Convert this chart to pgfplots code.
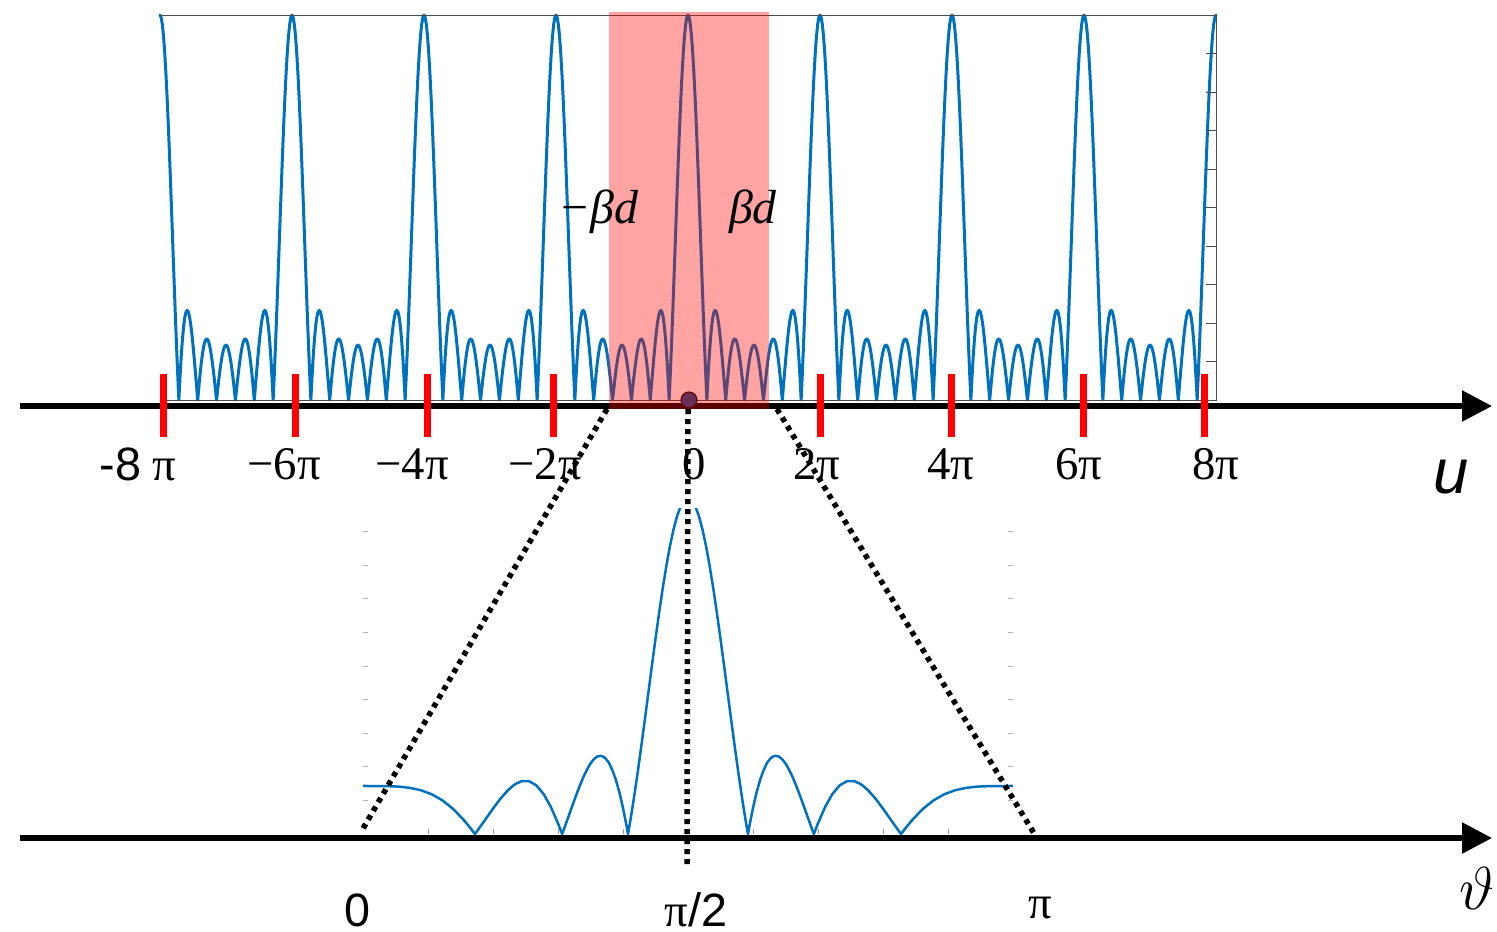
\documentclass[border=0pt]{standalone}
\usepackage{pgfplots}
\pgfplotsset{compat=1.18}
\usepackage{pgfplotstable}
\usepackage{fontspec}
\setmainfont{Liberation Serif}
\newfontfamily\arial{Liberation Sans}
\usetikzlibrary{arrows.meta}

\definecolor{afblue}{RGB}{0,114,189}
\definecolor{dotfill}{RGB}{104,48,88}

% |AF| of a 7-element array over half a period, u/pi from 0 to 1
\pgfplotstableread{
v f
0.0000 1.0000
0.0179 0.9937
0.0357 0.9750
0.0536 0.9443
0.0714 0.9022
0.0893 0.8497
0.1071 0.7879
0.1250 0.7182
0.1429 0.6420
0.1607 0.5610
0.1786 0.4768
0.1964 0.3911
0.2143 0.3058
0.2321 0.2226
0.2500 0.1429
0.2679 0.0682
0.2857 0.0000
0.3036 0.0607
0.3214 0.1130
0.3393 0.1562
0.3571 0.1899
0.3750 0.2138
0.3929 0.2281
0.4107 0.2330
0.4286 0.2291
0.4464 0.2172
0.4643 0.1981
0.4821 0.1729
0.5000 0.1429
0.5179 0.1092
0.5357 0.0733
0.5536 0.0365
0.5714 0.0000
0.5893 0.0349
0.6071 0.0670
0.6250 0.0955
0.6429 0.1193
0.6607 0.1379
0.6786 0.1508
0.6964 0.1577
0.7143 0.1586
0.7321 0.1535
0.7500 0.1429
0.7679 0.1271
0.7857 0.1070
0.8036 0.0833
0.8214 0.0569
0.8393 0.0288
0.8571 0.0000
0.8750 0.0284
0.8929 0.0555
0.9107 0.0802
0.9286 0.1017
0.9464 0.1192
0.9643 0.1322
0.9821 0.1402
1.0000 0.1429
}\halfperiod

% the same pattern against the angle theta (degrees), beta d = pi
\pgfplotstableread{
theta f
0 0.1429
4 0.1428
7 0.1424
10 0.1409
13 0.1373
16 0.1303
19 0.1184
22 0.1001
25 0.0743
28 0.0407
30 0.0142
31.01 0.0000
32 0.0147
34 0.0451
36 0.0755
38 0.1041
40 0.1289
42 0.1476
44 0.1577
46 0.1573
48 0.1447
50 0.1192
52 0.0811
54 0.0320
55.15 0.0000
56 0.0249
57 0.0549
58 0.0851
59 0.1147
60 0.1429
61 0.1687
62 0.1913
63 0.2099
64 0.2235
65 0.2314
66 0.2327
67 0.2269
68 0.2134
69 0.1918
70 0.1620
71 0.1239
72 0.0776
73 0.0236
73.4 0.0000
74 0.0377
75 0.1053
76 0.1784
77 0.2558
78 0.3363
79 0.4182
80 0.5002
81 0.5807
82 0.6582
83 0.7309
84 0.7975
85 0.8565
86 0.9066
87 0.9466
88 0.9761
89 0.9941
90 1.0000
91 0.9941
92 0.9761
93 0.9466
94 0.9066
95 0.8565
96 0.7975
97 0.7309
98 0.6582
99 0.5807
100 0.5002
101 0.4182
102 0.3363
103 0.2558
104 0.1784
105 0.1053
106 0.0377
106.6 0.0000
107 0.0236
108 0.0776
109 0.1239
110 0.1620
111 0.1918
112 0.2134
113 0.2269
114 0.2327
115 0.2314
116 0.2235
117 0.2099
118 0.1913
119 0.1687
120 0.1429
121 0.1147
122 0.0851
123 0.0549
124 0.0249
124.85 0.0000
126 0.0320
128 0.0811
130 0.1192
132 0.1447
134 0.1573
136 0.1577
138 0.1476
140 0.1289
142 0.1041
144 0.0755
146 0.0451
148 0.0147
148.99 0.0000
150 0.0142
152 0.0407
155 0.0743
158 0.1001
161 0.1184
164 0.1303
167 0.1373
170 0.1409
173 0.1424
176 0.1428
180 0.1429
}\pattern

\newcommand\lbl{\fontsize{13.3}{15}\selectfont}

\begin{document}
\begin{tikzpicture}
% fixed page area
\useasboundingbox (0,0) rectangle (149.7mm,-93.1mm);

% array factor against u (x in units of pi)
\begin{axis}[at={(16mm,-40mm)}, anchor=south west, scale only axis,
  width=105.6mm, height=38.5mm, xmin=-8, xmax=8, ymin=0, ymax=1,
  axis line style={draw=none}, xtick=\empty, ytick=\empty, clip=false]
  \pgfplotsinvokeforeach{-8,-6,...,6}{
    \addplot[afblue, line width=0.3mm, line cap=round, line join=round]
      table[x expr=\thisrow{v}+#1, y=f] {\halfperiod};
  }
  \pgfplotsinvokeforeach{-6,-4,...,8}{
    \addplot[afblue, line width=0.3mm, line cap=round, line join=round]
      table[x expr=#1-\thisrow{v}, y=f] {\halfperiod};
  }
\end{axis}

% array factor against theta
\begin{axis}[at={(36.3mm,-83.4mm)}, anchor=south west, scale only axis,
  width=65mm, height=32.6mm, xmin=0, xmax=180, ymin=0, ymax=0.97,
  axis line style={draw=none}, xtick=\empty, ytick=\empty]
  \addplot[afblue, line width=0.25mm, line join=round] table[x=theta, y=f] {\pattern};
\end{axis}

\begin{scope}[x=0.1mm,y=-0.1mm]
  % frame of the upper plot
  \draw[line width=0.1mm, black!70] (160,400) -- (1216,400) -- (1216,15) -- (160,15);
  \foreach \k in {1,...,9}
    \draw[line width=0.1mm, black!70] (1206,{400-38.5*\k}) -- (1216,{400-38.5*\k});
  % faint ticks of the lower plot
  \foreach \k in {1,...,9}{
    \draw[line width=0.1mm, black!30] (363,{834-33.6*\k}) -- (368,{834-33.6*\k});
    \draw[line width=0.1mm, black!30] (1008,{834-33.6*\k}) -- (1013,{834-33.6*\k});
    \draw[line width=0.1mm, black!40] ({363+65*\k},834) -- ({363+65*\k},829);
  }
  % axes
  \draw[line width=0.55mm, -{Triangle[length=3mm,width=3mm]}] (20,406) -- (1492,406);
  \draw[line width=0.55mm, -{Triangle[length=3mm,width=3mm]}] (20,838) -- (1492,838);
  % multiples of 2 pi
  \foreach \x in {163,295,427,553,820,951,1083,1204}
    \draw[red, line width=0.7mm] (\x,374) -- (\x,437);
  % visible region
  \fill[red, opacity=0.36] (609,12) rectangle (769,409);
  \filldraw[fill=dotfill, draw=black!60!red, line width=0.12mm] (689,400) circle (0.8mm);
  % labels
  \node[anchor=base, inner sep=0] at (138,480) {\lbl{\arial -8} π};
  \node[anchor=base, inner sep=0] at (284,479) {\lbl −6π};
  \node[anchor=base, inner sep=0] at (412,479) {\lbl −4π};
  \node[anchor=base, inner sep=0] at (545,479) {\lbl −2π};
  \node[anchor=base, inner sep=0] at (694,479) {\lbl 0};
  \node[anchor=base, inner sep=0] at (817,479) {\lbl 2π};
  \node[anchor=base, inner sep=0] at (951,479) {\lbl 4π};
  \node[anchor=base, inner sep=0] at (1079,479) {\lbl 6π};
  \node[anchor=base, inner sep=0] at (1216,479) {\lbl 8π};
  \node[inner sep=0] at (1451,477) {\arial\itshape\fontsize{18}{20}\selectfont u};
  \node[anchor=base, inner sep=0] at (598,223) {\fontsize{13.6}{16}\selectfont\itshape −βd};
  \node[anchor=base, inner sep=0] at (753,223) {\fontsize{13.6}{16}\selectfont\itshape βd};
  \node[anchor=base, inner sep=0] at (357,926) {\lbl\arial 0};
  \node[anchor=base, inner sep=0] at (696,926) {\lbl π{\arial /2}};
  \node[anchor=base, inner sep=0] at (1040,918) {\lbl π};
  \node[anchor=east, inner sep=0] at (1495,888) {\fontsize{17}{19}\selectfont$\vartheta$};
  % projection lines
  \draw[line width=0.55mm, dash pattern=on 0.5mm off 0.5mm] (607,409) -- (361,832);
  \draw[line width=0.55mm, dash pattern=on 0.5mm off 0.5mm] (777,409) -- (1035,835);
  \draw[line width=0.55mm, dash pattern=on 0.5mm off 0.5mm] (688,409) -- (687,868);
\end{scope}
\end{tikzpicture}
\end{document}
